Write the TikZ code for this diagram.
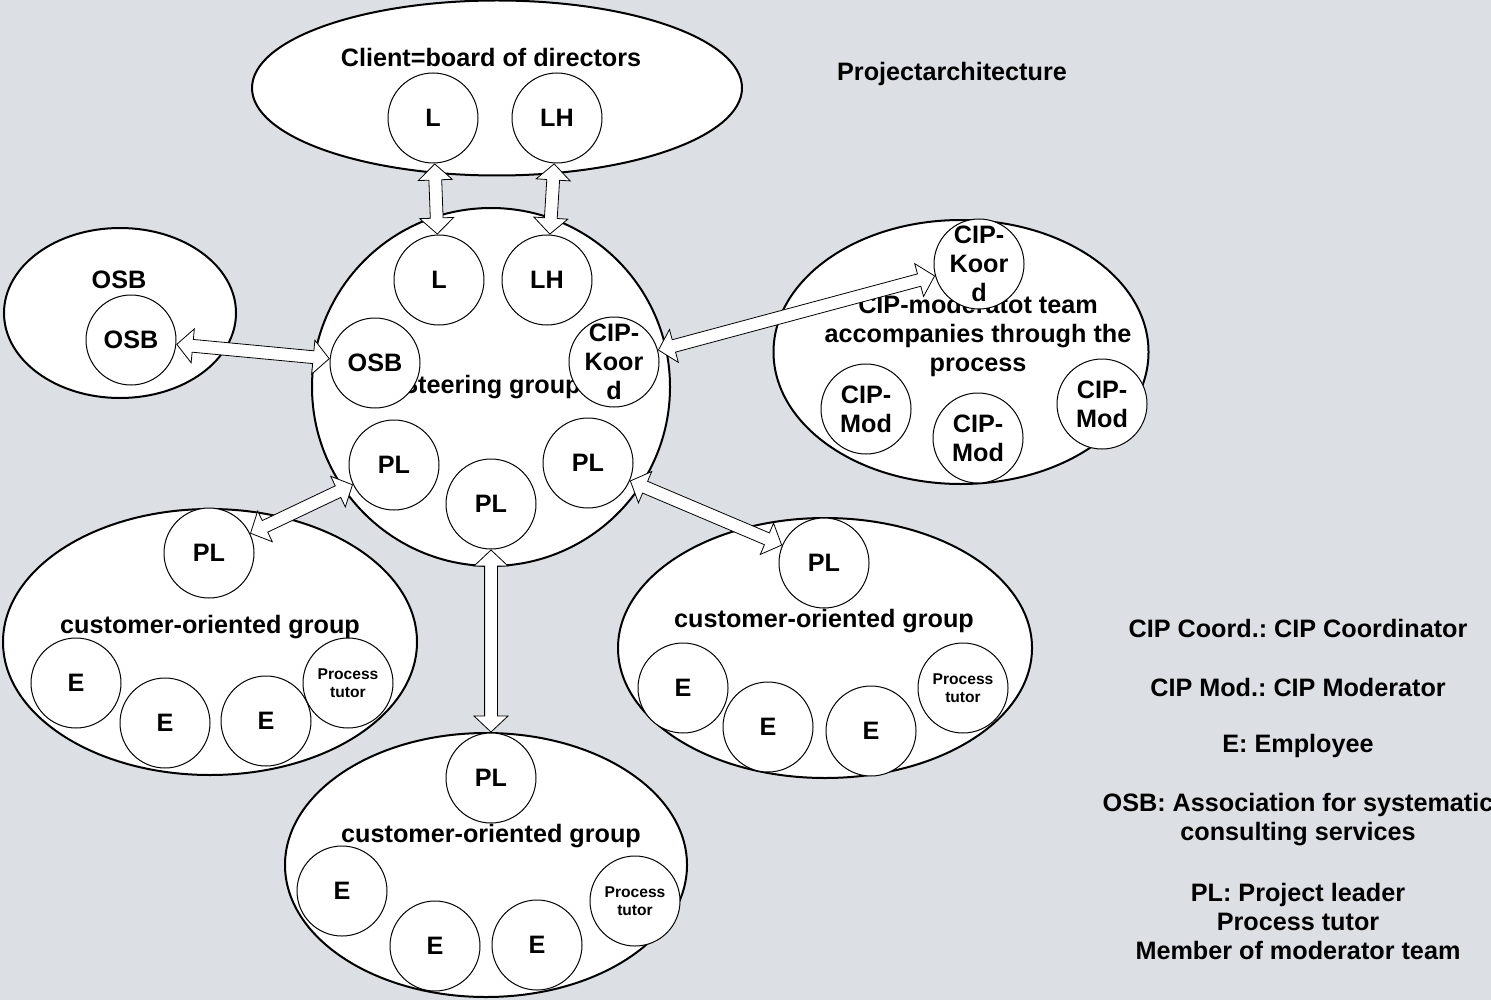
\documentclass[tikz,border=0pt]{standalone}
\usepackage{fontspec}
\setmainfont{Liberation Sans}
\usepackage{tikz}
\usetikzlibrary{shapes.geometric, calc}
\frenchspacing
\definecolor{bgray}{RGB}{220,224,228}
\tikzstyle{big} = [font=\fontsize{12.6}{14.5}\selectfont\bfseries, align=center]
\tikzstyle{small} = [font=\fontsize{7.8}{9}\selectfont\bfseries, align=center]
\tikzstyle{grp} = [ellipse, draw=black, fill=white, line width=1pt, inner sep=0pt]
\tikzstyle{member} = [circle, draw=black, fill=white, line width=0.5pt, minimum size=45pt, inner sep=-8pt, big]
\tikzstyle{tutor} = [member, small]
\tikzstyle{blockarr} = [draw=black, fill=white, line width=0.4pt, to path={let \p1=($(\tikztostart)!23pt!(\tikztotarget)$), \p2=($(\tikztotarget)!23pt!(\tikztostart)$) in
	(\p1) -- ($(\p1)!8pt!(\p2)!8.5pt!90:(\p2)$) -- ($(\p1)!8pt!(\p2)!3.2pt!90:(\p2)$)
	-- ($(\p2)!8pt!(\p1)!3.2pt!-90:(\p1)$) -- ($(\p2)!8pt!(\p1)!8.5pt!-90:(\p1)$)
	-- (\p2) -- ($(\p2)!8pt!(\p1)!8.5pt!90:(\p1)$) -- ($(\p2)!8pt!(\p1)!3.2pt!90:(\p1)$)
	-- ($(\p1)!8pt!(\p2)!3.2pt!-90:(\p2)$) -- ($(\p1)!8pt!(\p2)!8.5pt!-90:(\p2)$) -- cycle}]
\begin{document}
\begin{tikzpicture}[x=0.5pt, y=-0.5pt]
						\path[use as bounding box, fill=bgray] (0,0) rectangle (1491,1000);
						\node (client) [grp, minimum width=245pt, minimum height=87.5pt] at (497,88) {};
						\node (osbgrp) [grp, minimum width=116pt, minimum height=85pt] at (120,313) {};
						\node (modgrp) [grp, minimum width=187.5pt, minimum height=132pt] at (961,352) {};
						\node (cgleft) [grp, minimum width=207pt, minimum height=133pt] at (210,642) {};
						\node (cgright) [grp, minimum width=207pt, minimum height=130pt] at (825,648) {};
						\node (cgbottom) [grp, minimum width=201pt, minimum height=132pt] at (486,865) {};
						\node (steer) [circle, draw=black, fill=white, line width=1pt, minimum size=179pt, big] at (491,387) {Steering group};
						\node (clientt) [big] at (491,57) {Client=board of directors};
						\node (projt) [big] at (952,74) {Projectarchitecture};
						\node (osbt) [big] at (119,280) {OSB};
						\node (modt) [big] at (978,336) {CIP-moderatot team\\accompanies through the\\process};
						\node (cglt) [big] at (210,627) {customer-oriented group};
						\node (cgrt) [big] at (824,621) {customer-oriented group};
						\node (cgbt) [big] at (491,836) {customer-oriented group};
						\node (lcl) [member] at (433,118) {L};
						\node (lhcl) [member] at (557,118) {LH};
						\node (lsg) [member] at (439,280) {L};
						\node (lhsg) [member] at (547,280) {LH};
						\node (osbsg) [member] at (375,363) {OSB};
						\node (cipsg) [member] at (614,362) {CIP-\\Koor\\d};
						\node (plsg1) [member] at (394,465) {PL};
						\node (plsg2) [member] at (491,504) {PL};
						\node (plsg3) [member] at (588,463) {PL};
						\node (osbo) [member] at (131,340) {OSB};
						\node (cipmod) [member] at (979,264) {CIP-\\Koor\\d};
						\node (mod1) [member] at (866,409) {CIP-\\Mod};
						\node (mod2) [member] at (978,438) {CIP-\\Mod};
						\node (mod3) [member] at (1102,404) {CIP-\\Mod};
						\node (plg1) [member] at (209,553) {PL};
						\node (e11) [member] at (76,683) {E};
						\node (e12) [member] at (165,723) {E};
						\node (e13) [member] at (266,721) {E};
						\node (t1) [tutor] at (348,683) {Process\\tutor};
						\node (plg3) [member] at (824,563) {PL};
						\node (e31) [member] at (683,688) {E};
						\node (e32) [member] at (768,727) {E};
						\node (e33) [member] at (871,731) {E};
						\node (t3) [tutor] at (963,688) {Process\\tutor};
						\node (plg2) [member] at (491,778) {PL};
						\node (e21) [member] at (342,891) {E};
						\node (e22) [member] at (435,946) {E};
						\node (e23) [member] at (537,945) {E};
						\node (t2) [tutor] at (635,901) {Process\\tutor};
						\node (leg1) [big] at (1298,628) {CIP Coord.: CIP Coordinator};
						\node (leg2) [big] at (1298,687) {CIP Mod.: CIP Moderator};
						\node (leg3) [big] at (1298,746) {E: Employee};
						\node (leg4) [big] at (1298,820) {OSB: Association for systematic\\consulting services};
						\node (leg5) [big] at (1298,921) {PL: Project leader\\Process tutor\\Member of moderator team};
						\draw [blockarr] (lcl) to (lsg);
						\draw [blockarr] (lhcl) to (lhsg);
						\draw [blockarr] (osbo) to (osbsg);
						\draw [blockarr] (cipsg) to (cipmod);
						\draw [blockarr] (plsg1) to (plg1);
						\draw [blockarr] (plsg2) to (plg2);
						\draw [blockarr] (plsg3) to (plg3);
					\end{tikzpicture}
\end{document}
